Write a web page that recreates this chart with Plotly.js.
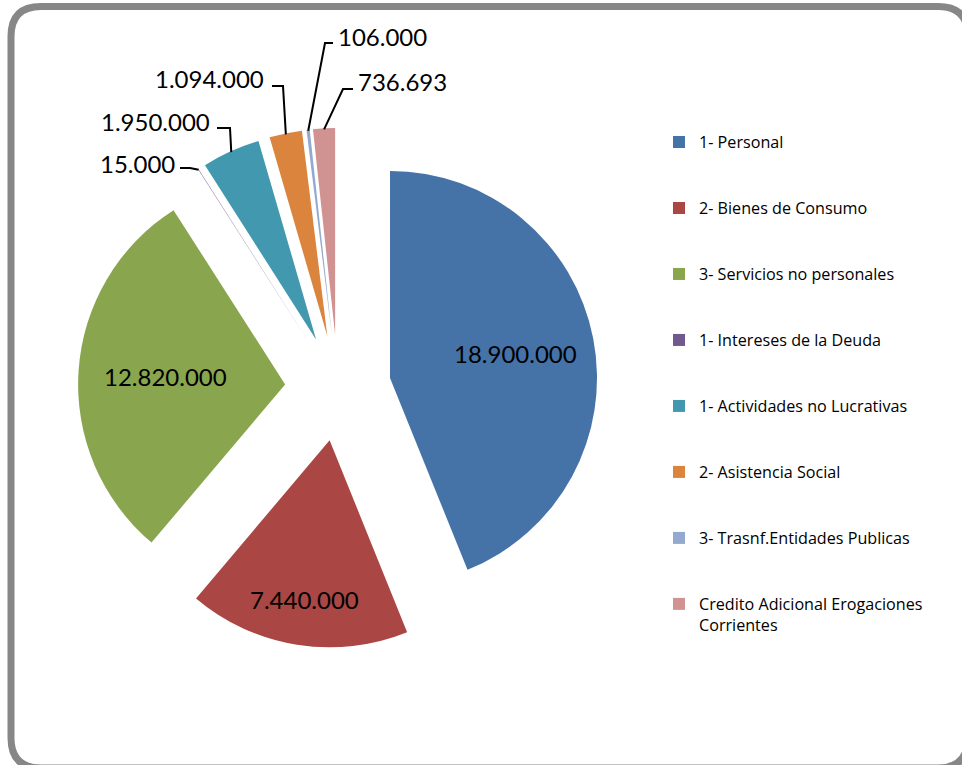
<!DOCTYPE html>
<html><head><meta charset="utf-8">
<script src="https://cdn.plot.ly/plotly-3.0.1.min.js"></script>
<style>html,body{margin:0;padding:0;background:#fff}#chart{width:962px;height:765px}</style>
</head><body><div id="chart"></div>
<script>
// ---- data ----
const categories = [
  "1- Personal",
  "2- Bienes de Consumo",
  "3- Servicios no personales",
  "1- Intereses de la Deuda",
  "1- Actividades no Lucrativas",
  "2- Asistencia Social",
  "3- Trasnf.Entidades Publicas",
  "Credito Adicional Erogaciones Corrientes"
];
const values = [18900000, 7440000, 12820000, 15000, 1950000, 1094000, 106000, 736693];
const colors = ["#4572A7", "#AA4643", "#89A54E", "#71588F", "#4198AF", "#DB843D", "#93A9CF", "#D19392"];

// ---- layout constants ----
const W = 962, H = 765;
const FONT = "Lato, 'Open Sans', sans-serif";
const LEGFONT = "'Open Sans', Lato, sans-serif";
const pull = 0.256;
const domX = [0.0811, 0.6216], domY = [0.1529, 0.8327];

const fmt = v => Math.round(v).toString().replace(/\B(?=(\d{3})+(?!\d))/g, '.');
const px = x => x / W, py = y => 1 - y / H;

// legend labels (padding lines give the legend its vertical spacing)
const legendLabels = categories.map(c =>
  c.indexOf("Credito") === 0 ? "Credito Adicional Erogaciones<br>Corrientes" : c + "<br> <br> ");

const trace = {
  type: 'pie',
  labels: legendLabels,
  values: values,
  sort: false,
  direction: 'clockwise',
  rotation: 0,
  pull: values.map(() => pull),
  marker: {colors: colors, line: {width: 0}},
  textinfo: 'none',
  textposition: 'none',
  hoverinfo: 'none',
  domain: {x: domX, y: domY}
};

// pie geometry (same formulas Plotly uses) for value labels
const boxW = W * (domX[1] - domX[0]), boxH = H * (domY[1] - domY[0]);
const R = Math.min(boxW, boxH) / (2 + 2 * pull);
const CX = W * (domX[0] + domX[1]) / 2;
const CY = H * (1 - domY[0]) - boxH / 2;
const total = values.reduce((a, b) => a + b, 0);
const cum = [];
values.reduce((acc, v, i) => { cum[i] = [acc / total, (acc + v) / total]; return acc + v; }, 0);
function slicePoint(i, frac) {
  const a = (cum[i][0] + cum[i][1]) / 2 * 2 * Math.PI;
  const ax = CX + pull * R * Math.sin(a), ay = CY - pull * R * Math.cos(a);
  return [ax + frac * R * Math.sin(a), ay - frac * R * Math.cos(a)];
}

const shapes = [];
const annotations = [];

// inside labels for the big slices (radial position as fraction of radius)
const insideLabels = [{i: 0, f: 0.62}, {i: 1, f: 0.78}, {i: 2, f: 0.58}];
insideLabels.forEach(o => {
  const p = slicePoint(o.i, o.f);
  annotations.push({
    xref: 'paper', yref: 'paper', x: px(p[0]), y: py(p[1]),
    xanchor: 'center', yanchor: 'middle',
    text: fmt(values[o.i]), showarrow: false, borderpad: 0,
    font: {family: FONT, size: 24, color: '#000'}
  });
});

// label placements for small slices (pixels)
const outsideLabels = [
  {i: 3, side: 'left',  tx: 176, ty: 163, lx: 180, ly: 168, ex: 190},
  {i: 4, side: 'left',  tx: 211, ty: 121, lx: 217, ly: 128, ex: 230},
  {i: 5, side: 'left',  tx: 265, ty: 79,  lx: 272, ly: 86,  ex: 283},
  {i: 6, side: 'right', tx: 337, ty: 36,  lx: 333, ly: 43,  ex: 325},
  {i: 7, side: 'right', tx: 357, ty: 82,  lx: 353, ly: 89,  ex: 343}
];
outsideLabels.forEach(o => {
  const p = slicePoint(o.i, 0.995);
  shapes.push({
    type: 'path', xref: 'paper', yref: 'paper',
    path: `M${px(o.lx)},${py(o.ly)} L${px(o.ex)},${py(o.ly)} L${px(p[0])},${py(p[1])}`,
    line: {color: '#000', width: 2}
  });
  annotations.push({
    xref: 'paper', yref: 'paper', x: px(o.tx), y: py(o.ty),
    xanchor: o.side === 'left' ? 'right' : 'left', yanchor: 'middle',
    text: fmt(values[o.i]), showarrow: false, borderpad: 0,
    font: {family: FONT, size: 24, color: '#000'}
  });
});

// rounded frame
(function () {
  const x0 = 11, y0 = 6.5, x1 = 968, y1 = 768, rr = 30;
  const P = (x, y) => `${px(x)},${py(y)}`;
  shapes.push({
    type: 'path', xref: 'paper', yref: 'paper', layer: 'below',
    path: `M${P(x0 + rr, y0)} L${P(x1 - rr, y0)} Q${P(x1, y0)} ${P(x1, y0 + rr)} L${P(x1, y1 - rr)} Q${P(x1, y1)} ${P(x1 - rr, y1)} L${P(x0 + rr, y1)} Q${P(x0, y1)} ${P(x0, y1 - rr)} L${P(x0, y0 + rr)} Q${P(x0, y0)} ${P(x0 + rr, y0)} Z`,
    line: {color: '#878787', width: 7}
  });
})();

const layout = {
  width: W, height: H,
  margin: {l: 0, r: 0, t: 0, b: 0},
  paper_bgcolor: '#fff',
  showlegend: true,
  legend: {
    x: (699 - 40) / W, xanchor: 'left',
    y: py(125), yanchor: 'top',
    valign: 'top',
    font: {family: LEGFONT, size: 16.15, color: '#000'},
    bgcolor: 'rgba(0,0,0,0)'
  },
  shapes: shapes,
  annotations: annotations
};

Plotly.newPlot('chart', [trace], layout, {displayModeBar: false, staticPlot: true});
</script>
</body></html>
